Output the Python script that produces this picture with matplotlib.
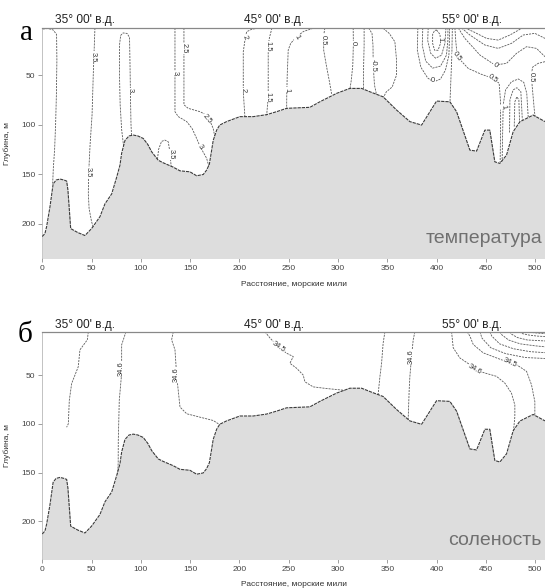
import matplotlib
matplotlib.use("Agg")
import matplotlib.pyplot as plt

plt.rcParams['font.family'] = ['Liberation Sans', 'DejaVu Sans']

# --- рельеф дна вдоль разреза: расстояние (мили) и глубина (м) ---
bottom_dist = [0, 2.7, 4.4, 7.8, 11, 14, 18, 22, 24.7, 26, 28.8, 36, 43.3, 50, 58.5,
               63.6, 70.4, 75.5, 78.8, 80.5, 83.9, 88, 92.3, 97, 102.4, 107, 111,
               117.6, 122.7, 132.9, 139.7, 149.8, 156.6, 163.3, 166.7, 169.5, 171.8,
               173.4, 176.9, 180, 187, 200.5, 214, 227.6, 237.7, 247.9, 271.5, 281.6,
               298.6, 312, 324, 332.4, 345.8, 359.4, 372.9, 384.8, 400, 413.5, 420.3,
               433.8, 440.6, 449, 454, 459.1, 464.2, 471, 477.7, 484.5, 498, 510]
bottom_depth = [213, 210, 203, 183, 160, 156, 155, 156, 157, 166, 205, 209, 212, 205, 193,
                180, 170, 153, 141, 129, 116, 111.5, 110.6, 111.5, 114, 120, 127.5,
                136, 138.6, 143, 146.7, 147.7, 151.7, 150.4, 146, 140, 126,
                116, 105.6, 100.5, 97, 92, 92, 90, 87, 83.6, 82.6, 77,
                68.5, 63.5, 63.5, 66.9, 72, 85.3, 97, 100.5, 76.3, 77, 87,
                125.8, 126.8, 105.6, 105.6, 137.6, 139.2, 130.8, 107.2, 97.2, 90.4, 97]

# --- изотермы: (расстояние, глубина) ---
temp_lines = [
    [(0.5, 3.5), (6, 3), (11, 4.5), (14.5, 9), (14.8, 35), (14.3, 70), (13.5, 100),
     (12.5, 125), (11.2, 144), (10.5, 160)],
    [(53.4, 2.5), (52.6, 25), (51.7, 50), (50.5, 90), (48.5, 120), (47, 150),
     (46.7, 170), (47.5, 185), (50, 198), (52.5, 206)],
    [(82.5, 122), (80.5, 105), (79, 80), (78.3, 50), (78.3, 20), (79.5, 10), (82, 7.5),
     (86, 8), (88.5, 12), (89, 40), (89.6, 80), (90, 100), (90.6, 112)],
    [(134.6, 2.5), (134.6, 40), (134.6, 87), (138, 92), (146.5, 97), (152, 104),
     (156.6, 114), (160, 122), (166.7, 134), (169, 142)],
    [(143.7, 2.5), (143.7, 40), (143.7, 80), (148, 83.6), (160, 87), (166.7, 90.4),
     (170, 96), (173.4, 104), (175, 112)],
    [(116.5, 138), (118, 125), (121, 117), (124.4, 115.7), (127.8, 117.4), (129, 125),
     (130, 134), (131, 145)],
    [(219, 2.5), (212, 4), (207.3, 6.3), (205.6, 14.6), (203.9, 26.5), (203.9, 66.9),
     (205.6, 93)],
    [(233, 2.5), (230.5, 12), (229.2, 20), (229.2, 56.8), (229.2, 72), (227.6, 91)],
    [(274.8, 2.8), (265, 6), (258, 11.3), (252, 18), (249.5, 24.7), (248.5, 50),
     (248, 70), (247.9, 85)],
    [(286.7, 2.5), (285.3, 11), (285.5, 25), (288.4, 41.6), (291, 55), (293.5, 69)],
    [(315.4, 2.5), (315.6, 18), (315, 40), (313.5, 55), (312, 65)],
    [(326.5, 2.5), (326.5, 20), (326, 40), (325.8, 66)],
    [(331, 2.5), (334.5, 8), (335.5, 20), (335.7, 40), (337, 60), (339.5, 72)],
    [(345.8, 2.8), (352, 8), (357.7, 16.4), (359.4, 35), (359.4, 50), (355, 62),
     (349, 67), (345.8, 73)],
    # тёплое ядро
    [(400, 4.5), (403.5, 9), (404, 18), (401.5, 25), (398, 25), (396, 18), (396, 9),
     (398, 5), (400, 4.5)],
    [(391.5, 2.5), (391, 15), (394, 28), (399, 33), (405, 30), (408.5, 18), (409.5, 2.5)],
    [(386, 2.5), (385.5, 20), (389, 36), (396, 43), (404, 41), (410, 30), (411.5, 15),
     (411.5, 2.5)],
    [(381, 2.5), (380.5, 25), (384, 42), (391, 53), (397, 57), (404, 54), (409, 45),
     (412.5, 30), (413.2, 10), (413.2, 2.5)],
    [(416, 2.5), (415.5, 30), (414.5, 55), (413.5, 80)],
    # волнистые изотермы справа
    [(428.7, 2.5), (437.2, 6.2), (450.7, 13), (462.5, 14.7), (474.4, 9.6), (486.2, 2.9),
     (493, 2.5)],
    [(425.4, 2.5), (433.8, 9.6), (449, 19.7), (462.5, 23.1), (476, 18), (487.9, 9.6),
     (499.7, 7.9), (510, 13)],
    [(422, 2.5), (428.7, 13), (444, 29.8), (459.2, 39.9), (471, 38.2), (481.1, 28.1),
     (491.3, 21.4), (501.4, 23.1), (510, 31.5)],
    [(418.6, 2.5), (419.5, 16), (421, 31.5), (432.1, 43.3), (445.6, 49.3), (457.5, 53.4),
     (463.5, 58.4), (464.9, 77), (465, 100), (464.5, 138)],
    [(466.5, 138), (467, 110), (467.6, 80), (470, 65), (476, 56.7), (483, 54),
     (488.5, 57.4), (491.5, 68.5), (493, 93)],
    [(474, 108), (474.4, 75), (477.7, 65), (481.5, 62.8), (485.5, 66.8), (487, 95)],
    [(478.8, 102), (479.4, 77), (481.5, 71.9), (483.5, 75.3), (484.2, 98)],
    [(510, 36.5), (503.1, 38.2), (497.5, 42), (496, 50), (497.5, 66.8), (499, 83.7),
     (500, 93)],
]
# подписи изотерм: (расстояние, глубина, текст, поворот)
temp_labels = [
    (51.7, 31.5, '3.5', -90), (46.8, 148, '3.5', -90), (89.6, 65, '3', -90),
    (134.6, 48, '3', -90), (160, 122, '3', -55), (143.7, 23, '2.5', -90),
    (167, 94, '2.5', -50), (131, 130, '3.5', -90), (205.4, 12, '2', -70),
    (203.9, 65, '2', -90), (229.2, 21.4, '1.5', -90), (229.2, 72, '1.5', -90),
    (258, 11.3, '1', -60), (248.3, 65, '1', -90), (285.4, 14.6, '0.5', -90),
    (315.8, 18, '0', -90), (335.7, 40, '-0.5', -90), (403.8, 14, '1', -90),
    (396.6, 56, '0', 0), (421, 31.5, '0.5', -55), (459.2, 39.9, '0', -40),
    (457.5, 53.4, '0.5', -35), (467.6, 82, '1', -80), (496, 52, '0.5', -90),
]

# --- изохалины ---
sal_lines = [
    [(46.7, 5.5), (45.7, 13.8), (38.2, 24.1), (36.5, 41.4), (29.8, 58.6), (27.4, 75.9),
     (26.4, 100), (24.7, 103.5)],
    [(84.9, 5.5), (82.2, 13.8), (80.5, 19), (80.5, 48.2), (78.1, 75.9), (77.1, 117.3),
     (77, 140), (76.5, 152)],
    [(132.9, 5.5), (131.2, 13.8), (134.6, 24.1), (136.3, 50), (137.9, 65.7),
     (139.7, 82.8), (146.5, 89.7), (160, 93.2), (173.4, 96.6), (180.2, 101)],
    [(225.9, 5.5), (231, 12), (241, 22.4), (247.9, 27.6), (254.6, 31), (251.2, 37.9),
     (258, 43), (264.7, 50), (266.4, 56.9), (274.8, 62.1), (288.4, 63.8),
     (305.3, 65.5), (308, 67)],
    [(347.6, 5.5), (345.8, 17.2), (344.2, 37.9), (342.5, 51.8), (340.8, 69), (340, 74)],
    [(378, 5.5), (376.3, 13.8), (374.6, 31), (372.9, 51.8), (372.2, 65.5),
     (371.2, 94.8), (371, 99)],
    [(415.2, 5.5), (416.9, 22), (423.6, 32.4), (433.8, 39.3), (438.8, 44.5),
     (449, 47.9), (460.8, 51.3), (469.3, 58.3), (476, 68.6), (479.4, 80.7),
     (479.4, 92.8), (478, 108)],
    [(431, 5.5), (433.8, 10), (437.2, 18.6), (447.3, 27.2), (460.8, 32.4),
     (474.3, 37.6), (481, 39.3), (491.3, 46.2), (496.3, 60), (499.7, 77.2), (499.7, 93)],
    [(444, 5.5), (446, 12), (455, 22), (470, 28), (490, 32), (510, 33)],
    [(454, 5.5), (456, 10), (464, 18), (478, 23), (495, 26), (510, 27)],
    [(464, 5.5), (466, 8.5), (473, 14), (485, 18), (500, 20), (510, 21)],
    [(474, 5.5), (476, 8), (482, 11.5), (492, 14), (510, 15)],
    [(484, 5.5), (487, 7.5), (494, 9), (502, 10), (510, 10.5)],
    [(494, 5.5), (498, 6.5), (504, 7), (510, 7.5)],
]
sal_labels = [
    (80.5, 43, '34.6', 90), (136.3, 50, '34.6', 90), (240, 21, '34.5', -35),
    (374.6, 31, '34.6', 90), (438.8, 44.5, '34.6', -30), (474.3, 37.6, '34.5', -25),
]

x_ticks = [0, 50, 100, 150, 200, 250, 300, 350, 400, 450, 500]
y_ticks = [50, 100, 150, 200]
lon_names = ["35° 00' в.д.", "45° 00' в.д.", "55° 00' в.д."]
lon_dist = [13, 205, 405]

fig = plt.figure(figsize=(5.45, 5.88), dpi=100)


def draw_section(rect, ylim, lines, labels, letter, letter_pos, name, name_y, lab_y, lon_y):
    ax = fig.add_axes(rect)
    for pts in lines:
        xs, ys = zip(*pts)
        ax.plot(xs, ys, color='#5a5a5a', lw=0.6, dashes=(2.5, 1.2), zorder=2)
    for x, y, s, r in labels:
        ax.text(x, y, s, rotation=r, fontsize=5.4, color='#333333', ha='center',
                va='center', zorder=3,
                bbox=dict(facecolor='white', edgecolor='none', pad=0.2))
    ax.fill_between(bottom_dist, bottom_depth, 260, color='#dddddd', lw=0, zorder=4)
    ax.plot(bottom_dist, bottom_depth, color='#3a3a3a', lw=0.8, dashes=(3, 0.8), zorder=5)

    ax.set_xlim(0, 510)
    ax.set_ylim(*ylim)
    ax.set_xticks(x_ticks)
    ax.set_yticks(y_ticks)
    ax.tick_params(direction='out', length=3, width=0.5, colors='#777777',
                   labelsize=6, labelcolor='#444444', pad=2)
    for side in ('right', 'bottom'):
        ax.spines[side].set_visible(False)
    ax.spines['top'].set_color('#888888')
    ax.spines['top'].set_linewidth(0.9)
    ax.spines['left'].set_color('#aaaaaa')
    ax.spines['left'].set_linewidth(0.5)

    ax.set_ylabel('Глубина, м', fontsize=6, color='#333333')
    ax.yaxis.set_label_coords(-0.062, 0.5)
    ax.set_xlabel('Расстояние, морские мили', fontsize=6, color='#333333')
    ax.xaxis.set_label_coords(0.5, lab_y)

    for s, d in zip(lon_names, lon_dist):
        ax.text(d, lon_y, s, transform=ax.get_xaxis_transform(), fontsize=8.6,
                color='#222222', ha='left', va='center')
    ax.text(0.994, name_y, name, transform=ax.transAxes, fontsize=14,
            color='#707070', ha='right', va='baseline', zorder=6)
    fig.text(letter_pos[0], letter_pos[1], letter, fontsize=21,
             family=['Liberation Serif', 'DejaVu Serif'], ha='center', va='center')
    return ax


draw_section([0.0776, 0.5607, 0.9224, 0.3917], (235, 2.5), temp_lines, temp_labels,
             'а', (0.0495, 0.944), 'температура', 0.066, -0.099, 1.035)
draw_section([0.0776, 0.0488, 0.9224, 0.3871], (239, 5.5), sal_lines, sal_labels,
             'б', (0.046, 0.43), 'соленость', 0.063, -0.095, 1.03)

fig.savefig('out.png', dpi=100)
